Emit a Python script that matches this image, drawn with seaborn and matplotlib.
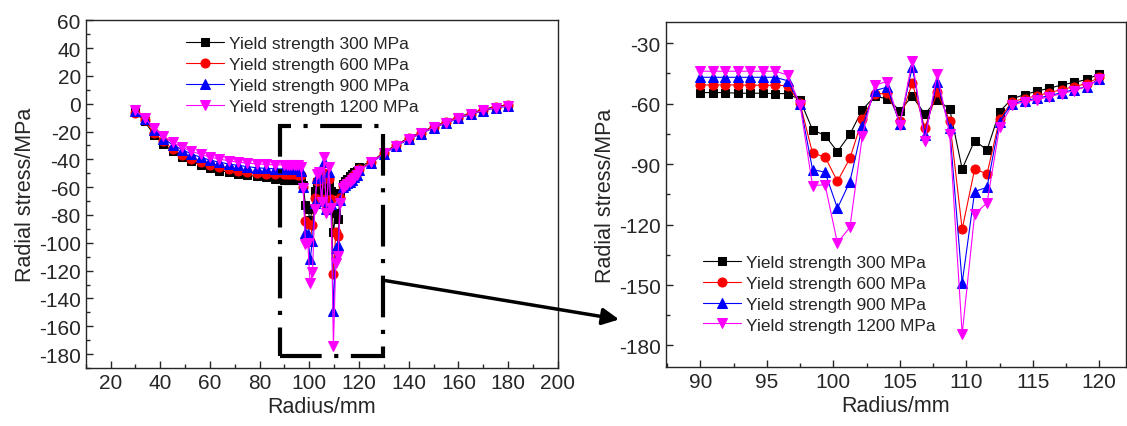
import numpy as np
import pandas as pd
import seaborn as sns
import matplotlib.pyplot as plt
from matplotlib.patches import Rectangle
from matplotlib.ticker import MultipleLocator

# radius points (mm): coarse inner part, fine part (zoomed window), outer part
radius_inner = [30, 33.75, 37.5, 41.25, 45, 48.75, 52.5, 56.25, 60, 63.75,
                67.5, 71.25, 75, 78.75, 82.5, 86.25]
radius_fine = [90.0, 90.94, 91.88, 92.81, 93.75, 94.69, 95.63, 96.56, 97.5, 98.44,
               99.38, 100.31, 101.25, 102.19, 103.13, 104.06, 105.0, 105.94, 106.88,
               107.81, 108.75, 109.69, 110.63, 111.56, 112.5, 113.44, 114.38, 115.31,
               116.25, 117.19, 118.13, 119.06, 120.0]
radius_outer = [125, 130, 135, 140, 145, 150, 155, 160, 165, 170, 175, 180]

# radial stress (MPa) for each yield strength
s300_inner = [-6.2, -12.7, -22.3, -28.8, -34.3, -38.4, -41.5, -43.9, -46.3, -48.0,
              -49.2, -50.4, -51.4, -52.3, -53.0, -54.0]
s600_inner = [-6.5, -12.0, -21.0, -27.0, -32.5, -36.5, -39.5, -42.0, -44.0, -45.5,
              -47.0, -48.0, -49.0, -49.8, -50.3, -50.6]
s900_inner = [-5.5, -11.0, -19.0, -25.0, -29.5, -33.0, -36.0, -38.5, -40.5, -42.0,
              -43.3, -44.3, -45.2, -46.0, -46.5, -46.8]
s1200_inner = [-4.8, -10.3, -17.5, -23.5, -27.8, -31.2, -34.3, -36.2, -38.4, -39.8,
               -41.0, -42.0, -42.7, -43.2, -43.6, -43.9]

s300_fine = [-54.5, -54.5, -54.5, -54.8, -54.8, -54.8, -55.0, -55.0, -58.1, -73.0,
             -75.8, -83.8, -75.2, -62.9, -56.3, -57.6, -63.4, -56.3, -65.1, -58.1,
             -62.6, -92.4, -78.3, -83.0, -63.9, -57.6, -55.5, -53.8, -52.3, -50.7,
             -49.4, -48.0, -45.2]
s600_fine = [-50.7, -50.7, -50.7, -50.7, -50.8, -50.8, -50.9, -51.0, -59.8, -84.6,
             -86.4, -98.5, -87.1, -67.6, -55.2, -54.8, -68.4, -49.7, -72.0, -54.3,
             -68.4, -122.3, -92.4, -94.9, -67.6, -59.0, -57.5, -56.0, -54.5, -53.0,
             -51.5, -50.0, -47.0]
s900_fine = [-46.9, -46.9, -46.9, -46.9, -46.9, -46.9, -46.9, -48.6, -60.0, -92.7,
             -94.0, -111.9, -98.7, -71.2, -53.5, -51.8, -70.0, -41.9, -75.4, -49.0,
             -72.2, -149.0, -103.6, -101.5, -68.9, -60.0, -58.5, -57.3, -56.0, -54.5,
             -53.0, -51.5, -47.7]
s1200_fine = [-43.9, -43.9, -43.9, -43.9, -43.9, -43.9, -43.9, -45.7, -60.5, -100.7,
              -100.2, -129.1, -121.3, -75.8, -50.7, -49.0, -70.5, -38.6, -78.3, -45.2,
              -75.0, -174.3, -114.7, -109.3, -71.7, -60.7, -59.0, -58.0, -56.5, -55.0,
              -53.5, -51.5, -48.0]

s300_outer = [-41.5, -35.0, -29.5, -24.5, -20.5, -16.3, -13.0, -9.5, -6.7, -4.0, -2.0, -0.7]
s600_outer = [-41.9, -35.4, -29.9, -24.9, -20.9, -16.7, -13.4, -9.9, -7.1, -4.4, -2.4, -1.1]
s900_outer = [-42.5, -36.0, -30.5, -25.5, -21.5, -17.3, -14.0, -10.5, -7.7, -5.0, -3.0, -1.7]
s1200_outer = [-42.2, -35.7, -30.2, -25.2, -21.2, -17.0, -13.7, -10.2, -7.4, -4.7, -2.7, -1.4]

labels = ['Yield strength 300 MPa', 'Yield strength 600 MPa',
          'Yield strength 900 MPa', 'Yield strength 1200 MPa']
colors = ['black', 'red', 'blue', 'magenta']
markers = ['s', 'o', '^', 'v']
msizes = [5.5, 6.5, 7.5, 7.5]

fine_sets = [s300_fine, s600_fine, s900_fine, s1200_fine]
inner_sets = [s300_inner, s600_inner, s900_inner, s1200_inner]
outer_sets = [s300_outer, s600_outer, s900_outer, s1200_outer]

sns.set_style('ticks')
plt.rcParams['font.family'] = ['Liberation Sans', 'DejaVu Sans']
plt.rcParams['xtick.direction'] = 'in'
plt.rcParams['ytick.direction'] = 'in'
plt.rcParams['axes.unicode_minus'] = False

fig = plt.figure(figsize=(11.27, 4.27), dpi=100)
ax1 = fig.add_axes([0.076, 0.136, 0.419, 0.814])
ax2 = fig.add_axes([0.5907, 0.139, 0.4083, 0.8065])

# left: full radius range
for i in range(4):
    r = radius_inner + radius_fine + radius_outer
    s = inner_sets[i] + fine_sets[i] + outer_sets[i]
    sns.lineplot(x=r, y=s, ax=ax1, color=colors[i], marker=markers[i], markersize=msizes[i],
                 markeredgecolor=colors[i], linewidth=0.8, label=labels[i],
                 sort=False, estimator=None)

# right: zoomed window
for i in range(4):
    sns.lineplot(x=radius_fine, y=fine_sets[i], ax=ax2, color=colors[i], marker=markers[i],
                 markersize=msizes[i], markeredgecolor=colors[i], linewidth=0.8,
                 label=labels[i], sort=False, estimator=None)

ax1.set_xlim(10, 200)
ax1.set_ylim(-190, 60)
ax1.xaxis.set_minor_locator(MultipleLocator(10))
ax1.yaxis.set_minor_locator(MultipleLocator(10))
ax1.set_xticks(range(20, 201, 20))
ax1.set_yticks(range(-180, 61, 20))

ax2.set_xlim(87.4, 122)
ax2.set_ylim(-190.5, -19.6)
ax2.set_xticks(range(90, 121, 5))
ax2.xaxis.set_minor_locator(MultipleLocator(2.5))
ax2.set_yticks(range(-180, -29, 30))
ax2.yaxis.set_minor_locator(MultipleLocator(15))

for ax in (ax1, ax2):
    ax.tick_params(which='major', length=5, width=1, labelsize=15, top=False, right=False)
    ax.tick_params(which='minor', length=3, width=1, top=False, right=False)
    for sp in ax.spines.values():
        sp.set_visible(True)
        sp.set_linewidth(1)
    ax.set_xlabel('Radius/mm', fontsize=15.5, labelpad=3)
    ax.set_ylabel('Radial stress/MPa', fontsize=15.5, labelpad=2)

ax1.legend(loc='upper left', bbox_to_anchor=(0.212, 0.955), frameon=False, fontsize=12.5,
           handlelength=2.2, handletextpad=0.3, labelspacing=0.33, borderpad=0, borderaxespad=0)
ax2.legend(loc='upper left', bbox_to_anchor=(0.08, 0.325), frameon=False, fontsize=12.5,
           handlelength=2.2, handletextpad=0.3, labelspacing=0.33, borderpad=0, borderaxespad=0)

# dash-dot box marking the zoomed region
box = Rectangle((88.3, -181.7), 129.6 - 88.3, -16.3 + 181.7, fill=False, edgecolor='black',
                linewidth=3, linestyle=(0, (10, 3, 1, 3)), zorder=5)
ax1.add_patch(box)

# arrow pointing to the zoomed plot
ax1.annotate('', xy=(84.1, -167.3), xycoords=ax2.transData,
             xytext=(129.6, -126.9), textcoords=ax1.transData,
             arrowprops=dict(arrowstyle='-|>', lw=2.5, color='black', mutation_scale=25),
             annotation_clip=False)

fig.savefig('out.png', dpi=100)
